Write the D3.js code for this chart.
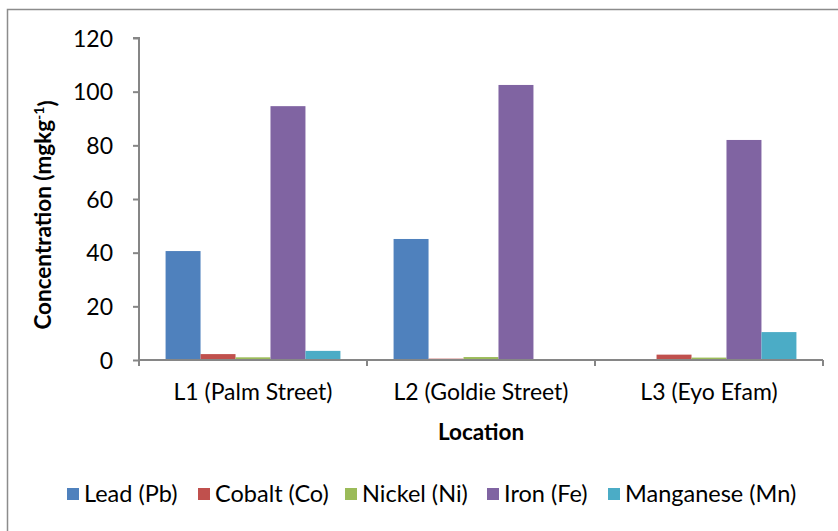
<!DOCTYPE html>
<html>
<head>
<meta charset="utf-8">
<script src="https://cdn.jsdelivr.net/npm/d3@7/dist/d3.min.js"></script>
<style>
  body { margin: 0; background: #fff; }
  svg { display: block; }
  text { font-family: Lato, "Open Sans", sans-serif; fill: #000; }
</style>
</head>
<body>
<svg id="chart" width="838" height="531"></svg>
<script>
// Metal concentrations (mg/kg) per sampling location
const locations = ["L1 (Palm Street)", "L2 (Goldie Street)", "L3 (Eyo Efam)"];
const metals = ["Lead (Pb)", "Cobalt (Co)", "Nickel (Ni)", "Iron (Fe)", "Manganese (Mn)"];
const lead      = [40.6, 45.1, 0];
const cobalt    = [2.2, 0.5, 2.0];
const nickel    = [1.0, 1.1, 0.9];
const iron      = [94.6, 102.5, 82.0];
const manganese = [3.4, 0, 10.4];
const colors = ["#4F81BD", "#C0504D", "#9BBB59", "#8064A2", "#4BACC6"];
const yTicks = [0, 20, 40, 60, 80, 100, 120];

const seriesValues = [lead, cobalt, nickel, iron, manganese];

const svg = d3.select("#chart");
const axisColor = "#868686";
const labelSize = "23px";

// outer chart frame
svg.append("rect")
  .attr("x", 7.5).attr("y", 9.5)
  .attr("width", 840).attr("height", 540)
  .attr("fill", "none").attr("stroke", "#8c8c8c").attr("stroke-width", 1.5);

const plot = { left: 139, right: 823, top: 38, bottom: 360 };

const x0 = d3.scaleBand().domain(locations).range([plot.left, plot.right]).paddingInner(0).paddingOuter(0);
const x1 = d3.scaleBand().domain(metals).range([0, x0.bandwidth()]).paddingInner(0).paddingOuter(0.76);
const y = d3.scaleLinear().domain([0, 120]).range([plot.bottom, plot.top]);

// bars
const groups = svg.append("g").selectAll("g")
  .data(locations)
  .join("g")
  .attr("transform", d => `translate(${x0(d)},0)`);

groups.selectAll("rect")
  .data((loc, i) => metals.map((m, j) => ({ metal: m, value: seriesValues[j][i], color: colors[j] })))
  .join("rect")
  .attr("x", d => x1(d.metal))
  .attr("width", x1.bandwidth())
  .attr("y", d => y(d.value))
  .attr("height", d => plot.bottom - y(d.value))
  .attr("fill", d => d.color);

// y axis
const yAxis = svg.append("g")
  .attr("transform", `translate(${plot.left},0)`)
  .call(d3.axisLeft(y).tickValues(yTicks).tickSize(6).tickPadding(20).tickFormat(d3.format("d")))
  .attr("font-size", null).attr("font-family", null);
yAxis.select(".domain").attr("stroke", axisColor).attr("stroke-width", 2).attr("d", `M-6,${plot.top}H0V${plot.bottom}`);
yAxis.selectAll(".tick line").attr("stroke", axisColor).attr("stroke-width", 2);
yAxis.selectAll(".tick text").style("font-size", labelSize).attr("fill", "#000").attr("dy", "0.35em");

// x axis
const xAxis = svg.append("g")
  .attr("transform", `translate(0,${plot.bottom})`)
  .call(d3.axisBottom(x0).tickSize(0).tickPadding(0))
  .attr("font-size", null).attr("font-family", null);
xAxis.select(".domain").attr("stroke", axisColor).attr("stroke-width", 2)
  .attr("d", `M${plot.left},0H${plot.right}`);
xAxis.selectAll(".tick text").style("font-size", labelSize).attr("fill", "#000").attr("y", 40).attr("dy", null);
// category separator ticks
const sepPositions = [plot.left, ...locations.map(l => x0(l) + x0.bandwidth())];
svg.append("g").selectAll("line")
  .data(sepPositions)
  .join("line")
  .attr("x1", d => d).attr("x2", d => d)
  .attr("y1", plot.bottom).attr("y2", plot.bottom + 6)
  .attr("stroke", axisColor).attr("stroke-width", 2);

// axis titles
svg.append("text")
  .attr("x", 481)
  .attr("y", 440)
  .attr("text-anchor", "middle")
  .style("font-size", "22.5px").style("font-weight", "bold")
  .text("Location");

const yTitle = svg.append("text")
  .attr("transform", `translate(51,215) rotate(-90)`)
  .attr("text-anchor", "middle")
  .style("font-size", "22.5px").style("font-weight", "bold");
yTitle.append("tspan").text("Concentration (mgkg");
yTitle.append("tspan").attr("dy", "-0.5em").style("font-size", "14px").text("-1");
yTitle.append("tspan").attr("dy", "0.5em").text(")");

// legend
const legendX = [67, 198, 345, 487, 608];
const legend = svg.append("g").selectAll("g")
  .data(metals)
  .join("g")
  .attr("transform", (d, i) => `translate(${legendX[i]},0)`);
legend.append("rect")
  .attr("x", 0).attr("y", 488).attr("width", 12).attr("height", 12)
  .attr("fill", (d, i) => colors[i]);
legend.append("text")
  .attr("x", 17).attr("y", 502)
  .style("font-size", "23.5px")
  .text(d => d);
</script>
</body>
</html>
